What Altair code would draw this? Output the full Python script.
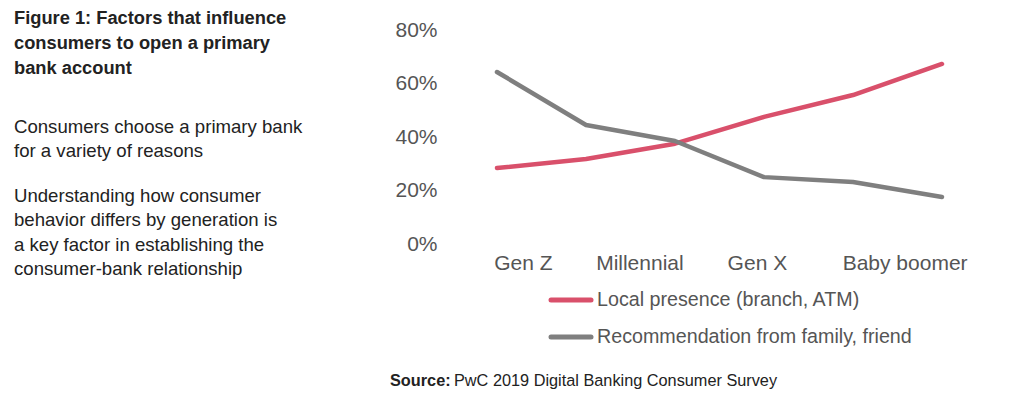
import altair as alt
import pandas as pd

# ---- data ----
steps = [0, 1, 2, 3, 4, 5]
local_presence = [0.284, 0.318, 0.375, 0.475, 0.557, 0.673]
recommendation = [0.643, 0.445, 0.385, 0.250, 0.232, 0.176]
series_names = ["Local presence (branch, ATM)", "Recommendation from family, friend"]
series_colors = ["#d9506b", "#7f7f7f"]
generations = ["Gen Z", "Millennial", "Gen X", "Baby boomer"]
generation_pos = [0.29, 1.6, 2.92, 4.58]
y_ticks = [0, 0.2, 0.4, 0.6, 0.8]

title_lines = ["Figure 1: Factors that influence", "consumers to open a primary", "bank account"]
para1 = ["Consumers choose a primary bank", "for a variety of reasons"]
para2 = ["Understanding how consumer", "behavior differs by generation is",
         "a key factor in establishing the", "consumer-bank relationship"]

rows = []
for s, v in zip(steps, local_presence):
    rows.append({"step": s, "value": v, "series": series_names[0], "order": 0})
for s, v in zip(steps, recommendation):
    rows.append({"step": s, "value": v, "series": series_names[1], "order": 1})
df = pd.DataFrame(rows)

label_expr = " : ".join(
    f"datum.value == {p} ? '{g}'" for p, g in zip(generation_pos, generations)
) + " : ''"

FONT = "Liberation Sans"
color_scale = alt.Scale(domain=series_names, range=series_colors)

x_enc = alt.X("step:Q", scale=alt.Scale(domain=[0, 5], nice=False, zero=False),
              axis=alt.Axis(values=generation_pos, labelExpr=label_expr, title=None,
                            grid=False, domain=False, ticks=False, labelFontSize=21,
                            labelColor="#555555", labelFont=FONT, labelPadding=8,
                            labelOverlap=False, labelFlush=False))
y_enc = alt.Y("value:Q", scale=alt.Scale(domain=[0, 0.8], nice=False),
              axis=alt.Axis(values=y_ticks, format=".0%", title=None, grid=False,
                            domain=False, ticks=False, labelFontSize=21,
                            labelColor="#555555", labelFont=FONT, labelPadding=60))

lines = alt.Chart(df).mark_line(strokeWidth=4.5, strokeCap="round", strokeJoin="round").encode(
    x=x_enc, y=y_enc,
    color=alt.Color("series:N", scale=color_scale, legend=None),
    order=alt.Order("step:Q"),
    detail="series:N",
)

# legend built from series list
leg_line_df = pd.DataFrame({"series": [s for s in series_names for _ in range(2)],
                            "xp": [0, 1] * len(series_names)})
leg_df = pd.DataFrame({"series": series_names})
leg_y = alt.Y("series:N", sort=series_names,
              scale=alt.Scale(type="point", range=[270, 307], padding=0), axis=None)
leg_line = alt.Chart(leg_line_df).mark_line(strokeWidth=5, strokeCap="round").encode(
    x=alt.X("xp:Q", scale=alt.Scale(domain=[0, 1], range=[54, 94]), axis=None),
    y=leg_y,
    color=alt.Color("series:N", scale=color_scale, legend=None),
    detail="series:N")
leg_text = alt.Chart(leg_df).mark_text(align="left", baseline="middle", font=FONT,
                                        fontSize=19.7, color="#555555").encode(
    x=alt.value(100), y=leg_y, text="series:N")

# left-hand text block
def text_block(lines_, y_range, size, bold=False):
    d = pd.DataFrame({"t": lines_, "i": list(range(len(lines_)))})
    return alt.Chart(d).mark_text(align="left", baseline="middle", font=FONT,
                                  fontSize=size, fontWeight="bold" if bold else "normal",
                                  color="#222222").encode(
        x=alt.value(-483),
        y=alt.Y("i:O", scale=alt.Scale(type="point", range=y_range, padding=0), axis=None),
        text="t:N")

title_t = text_block(title_lines, [-11, 39], 18.3, bold=True)
p1 = text_block(para1, [97, 121], 18.6)
p2 = text_block(para2, [166, 239], 18.6)

src_b = alt.Chart(pd.DataFrame({"t": ["Source:"]})).mark_text(
    align="left", baseline="middle", font=FONT, fontSize=16.3, fontWeight="bold",
    color="#222222").encode(x=alt.value(-107), y=alt.value(351), text="t:N")
src_r = alt.Chart(pd.DataFrame({"t": ["PwC 2019 Digital Banking Consumer Survey"]})).mark_text(
    align="left", baseline="middle", font=FONT, fontSize=16.3,
    color="#222222").encode(x=alt.value(-43), y=alt.value(351), text="t:N")

chart = alt.layer(lines, leg_line, leg_text, title_t, p1, p2, src_b, src_r).resolve_scale(
    x="independent", y="independent"
).properties(
    width=445, height=214,
    background="white",
    autosize=alt.AutoSizeParams(type="none"),
    padding={"left": 489, "top": 22, "right": 74, "bottom": 147},
).configure_view(strokeWidth=0)

chart.save("out.html", embed_options={"renderer": "svg", "actions": False})
